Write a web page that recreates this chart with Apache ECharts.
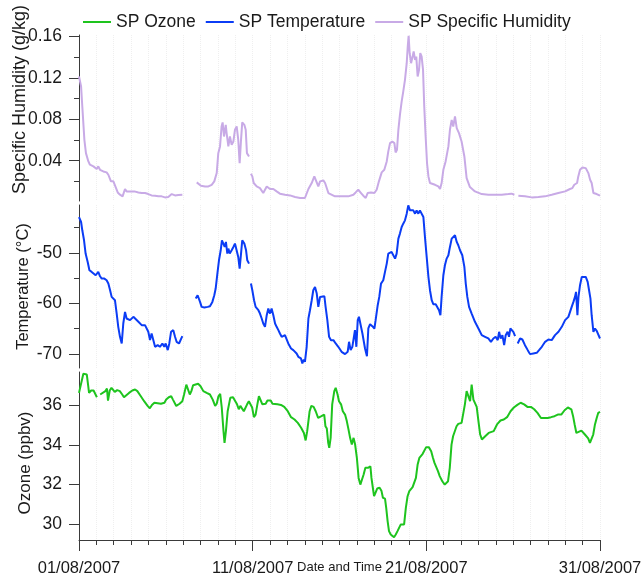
<!DOCTYPE html>
<html>
<head>
<meta charset="utf-8">
<script src="https://cdn.jsdelivr.net/npm/echarts@6/dist/echarts.min.js"></script>
<style>
  html, body { margin: 0; padding: 0; background: #ffffff; }
  #chart { width: 641px; height: 575px; }
</style>
</head>
<body>
<div id="chart"></div>
<script>
// Time axis: days since 01/08/2007 00:00
const dayTicks = [0, 10, 20, 30];
const dateLabels = ['01/08/2007', '11/08/2007', '21/08/2007', '31/08/2007'];

// Value-axis ticks
const humidityTicks = [0.04, 0.08, 0.12, 0.16];
const humidityMinorTicks = [0.02, 0.06, 0.10, 0.14];
const temperatureTicks = [-70, -60, -50];
const temperatureMinorTicks = [-65, -55, -45];
const ozoneTicks = [30, 32, 34, 36];

// SP Ozone (ppbv); null marks a gap in the record
const ozoneDays = [
  0.00, 0.06, 0.25, 0.35, 0.45, 0.58, 0.70, 0.84, 0.89, 1.03, 1.12, 1.22, 1.32, 1.52, 1.61, 1.67, 1.77, 1.87, 1.94,
  2.06, 2.20, 2.35, 2.49, 2.59, 2.68, 2.88, 3.07, 3.23, 3.36, 3.56, 3.75, 3.95, 4.08, 4.20, 4.34, 4.53, 4.72, 4.92,
  5.02, 5.17, 5.31, 5.41, 5.50, 5.60, 5.70, 5.79, 5.95, 6.05, 6.18, 6.28, 6.38, 6.47, 6.57, 6.67, 6.86, 7.00, 7.16,
  7.35, 7.54, 7.70, 7.84, 7.93, 8.03, 8.13, 8.22, 8.32, 8.38, 8.46, 8.56, 8.71, 8.87, 9.00, 9.10, 9.20, 9.29, 9.39,
  9.49, 9.59, 9.68, 9.78, 9.88, 9.97, 10.07, 10.17, 10.27, 10.36, 10.46, 10.56, 10.66, 10.75, 10.85, 10.95, 11.04,
  11.14, 11.24, 11.43, 11.63, 11.82, 12.02, 12.21, 12.41, 12.60, 12.79, 12.95, 13.05, 13.14, 13.28, 13.38, 13.51,
  13.63, 13.77, 13.96, 14.12, 14.19, 14.27, 14.35, 14.41, 14.49, 14.58, 14.70, 14.78, 14.89, 14.97, 15.09, 15.19,
  15.32, 15.42, 15.52, 15.61, 15.71, 15.81, 15.90, 16.00, 16.10, 16.20, 16.29, 16.39, 16.49, 16.64, 16.78, 16.84,
  16.92, 16.99, 17.07, 17.17, 17.31, 17.42, 17.50, 17.62, 17.69, 17.77, 17.85, 17.95, 18.04, 18.14, 18.24, 18.34,
  18.43, 18.53, 18.63, 18.72, 18.82, 18.92, 19.02, 19.11, 19.21, 19.31, 19.40, 19.50, 19.60, 19.79, 19.99, 20.14,
  20.28, 20.38, 20.47, 20.57, 20.67, 20.77, 20.92, 21.06, 21.15, 21.25, 21.35, 21.45, 21.54, 21.64, 21.74, 21.84,
  22.03, 22.13, 22.22, 22.32, 22.42, 22.52, 22.61, 22.71, 22.81, 22.90, 23.00, 23.10, 23.20, 23.29, 23.39, 23.49,
  23.59, 23.68, 23.88, 23.97, 24.07, 24.27, 24.46, 24.65, 24.85, 25.04, 25.24, 25.43, 25.63, 25.82, 26.02, 26.21,
  26.40, 26.60, 26.70, 26.79, 26.99, 27.18, 27.38, 27.57, 27.77, 27.96, 28.15, 28.35, 28.45, 28.54, 28.64, 28.74,
  28.93, 29.03, 29.13, 29.22, 29.32, 29.42, 29.52, 29.61, 29.71, 29.81, 29.90, 30.00
];
const ozone = [
  36.64, 36.64, 37.61, 37.61, 37.57, 36.64, 36.76, 36.76, 36.69, 36.42, null, 36.56, 36.59, 36.73, 36.86, 36.25, 36.76, 36.90, 36.81,
  36.69, 36.78, 36.73, 36.56, 36.42, 36.47, 36.64, 36.76, 36.81, 36.73, 36.47, 36.22, 35.98, 35.86, 36.03, 36.14, 36.12, 36.09, 36.14,
  36.30, 36.42, 36.47, 36.30, 36.22, 35.98, 36.06, 36.09, 36.22, 36.56, 37.06, 37.10, 36.56, 36.73, 37.03, 37.10, 37.10, 36.98, 36.73,
  36.64, 36.56, 36.30, 35.98, 36.09, 36.47, 36.59, 35.90, 34.70, 34.11, 34.70, 35.71, 36.39, 36.42, 36.22, 36.06, 35.81, 35.98, 36.06,
  35.71, 35.76, 36.06, 36.22, 36.30, 35.90, 35.41, 35.54, 36.06, 36.47, 36.39, 36.06, 35.98, 36.09, 36.25, 36.30, 36.25,
  36.09, 36.14, 36.06, 36.03, 35.93, 35.71, 35.41, 35.29, 35.12, 34.87, 34.61, 34.23, 34.70, 35.71, 35.98, 35.93,
  35.71, 35.37, 35.46, 35.54, 34.95, 34.83, 34.11, 33.85, 34.36, 36.06, 36.73, 36.90, 36.56, 36.22, 36.06, 35.71,
  35.54, 35.21, 34.78, 34.36, 34.02, 34.36, 34.02, 33.35, 32.33, 31.99, 31.99, 32.50, 32.84, 32.84, 32.92, 32.33,
  31.83, 31.40, 31.57, 31.79, 31.83, 31.66, 31.32, 31.28, 30.81, 30.14, 29.63, 29.46, 29.54, 29.32, 29.46, 29.63,
  29.54, 29.97, 30.00, 29.97, 30.81, 31.40, 31.66, 31.74, 31.86, 31.83, 32.33, 33.01, 33.35, 33.55, 33.89, 33.89,
  33.68, 33.35, 33.09, 33.01, 32.67, 32.42, 32.16, 31.99, 31.91, 32.16, 32.84, 34.02, 34.44, 34.53, 34.95, 35.07,
  35.12, 35.21, 36.06, 36.73, 36.64, 36.22, 37.06, 36.30, 36.22, 35.93, 35.21, 34.53, 34.28, 34.36, 34.44, 34.53,
  34.61, 34.65, 34.70, 34.78, 35.04, 35.24, 35.29, 35.41, 35.71, 35.90, 36.03, 36.14, 36.06, 35.93, 35.93, 35.81,
  35.63, 35.37, 35.29, 35.37, 35.37, 35.41, 35.46, 35.54, 35.54, 35.76, 35.90, 35.81, 35.46, 35.04, 34.61, 34.70,
  34.73, 34.66, 34.53, 34.44, 34.33, 34.11, 34.19, 34.53, 35.04, 35.37, 35.63, 35.68
];

// SP Temperature (°C)
const temperatureDays = [
  0.00, 0.12, 0.19, 0.29, 0.38, 0.50, 0.60, 0.73, 0.83, 0.96, 1.04, 1.11, 1.21, 1.31, 1.46, 1.59, 1.69, 1.79, 1.88,
  1.98, 2.07, 2.17, 2.26, 2.36, 2.46, 2.55, 2.65, 2.74, 2.84, 2.94, 3.13, 3.22, 3.42, 3.61, 3.70, 3.80, 3.90, 3.99,
  4.09, 4.18, 4.28, 4.38, 4.53, 4.66, 4.80, 4.91, 4.99, 5.11, 5.20, 5.30, 5.43, 5.53, 5.62, 5.76, 5.85, 5.95, 6.30,
  6.72, 6.83, 6.97, 7.06, 7.22, 7.41, 7.54, 7.68, 7.79, 7.87, 7.98, 8.06, 8.16, 8.23, 8.31, 8.39, 8.46, 8.54, 8.60,
  8.68, 8.79, 8.89, 8.98, 9.08, 9.17, 9.25, 9.33, 9.40, 9.52, 9.62, 9.69, 9.79, 9.85, 9.90, 9.98, 10.08, 10.17,
  10.33, 10.42, 10.52, 10.61, 10.71, 10.81, 10.90, 11.00, 11.09, 11.19, 11.29, 11.38, 11.48, 11.57, 11.67, 11.86,
  12.05, 12.21, 12.34, 12.53, 12.63, 12.78, 12.86, 12.94, 13.01, 13.11, 13.21, 13.30, 13.40, 13.49, 13.59, 13.69,
  13.78, 13.88, 13.97, 14.13, 14.20, 14.30, 14.40, 14.51, 14.65, 14.78, 14.93, 15.12, 15.32, 15.47, 15.55, 15.64,
  15.74, 15.84, 15.89, 15.97, 16.05, 16.12, 16.20, 16.32, 16.39, 16.47, 16.58, 16.66, 16.76, 16.89, 17.01, 17.08,
  17.20, 17.29, 17.39, 17.52, 17.62, 17.72, 17.81, 17.91, 18.00, 18.10, 18.20, 18.29, 18.39, 18.48, 18.58, 18.67,
  18.77, 18.87, 18.96, 19.06, 19.15, 19.25, 19.35, 19.44, 19.54, 19.63, 19.73, 19.83, 19.92, 20.02, 20.12, 20.21,
  20.31, 20.40, 20.54, 20.65, 20.73, 20.81, 20.88, 20.98, 21.07, 21.17, 21.27, 21.36, 21.46, 21.55, 21.65, 21.75,
  21.84, 21.94, 22.07, 22.19, 22.27, 22.36, 22.46, 22.61, 22.80, 23.00, 23.19, 23.38, 23.57, 23.72, 23.86, 23.99,
  24.11, 24.19, 24.28, 24.38, 24.48, 24.57, 24.68, 24.76, 24.84, 24.91, 25.01, 25.11, 25.18, 25.26, 25.40, 25.53,
  25.68, 25.84, 25.97, 26.16, 26.36, 26.49, 26.65, 26.84, 27.03, 27.22, 27.41, 27.61, 27.80, 27.99, 28.18, 28.28,
  28.37, 28.47, 28.56, 28.62, 28.70, 28.76, 28.85, 28.95, 29.04, 29.18, 29.29, 29.37, 29.45, 29.52, 29.62, 29.71,
  29.81, 29.90, 30.00
];
const temperature = [
  -42.88, -43.87, -45.51, -47.49, -50.13, -51.78, -53.43, -53.76, -53.96, -54.42, -54.75, -53.76, -54.62, -55.08, -55.08, -55.41, -56.07, -57.39, -58.71,
  -58.38, -59.37, -62.01, -64.64, -66.62, -67.94, -63.98, -61.68, -62.99, -62.66, -63.32, -62.66, -62.99, -63.65, -64.31, -64.64, -64.31, -64.31, -65.63,
  -67.28, -65.96, -66.29, -68.60, -68.27, -68.60, -67.94, -68.60, -67.94, -69.26, -67.94, -65.63, -65.30, -66.62, -67.61, -67.94, -68.14, -66.49, null,
  -59.04, -58.38, -59.70, -60.69, -60.82, -60.69, -60.55, -59.70, -58.38, -57.06, -53.76, -51.45, -49.47, -47.49, -48.15, -48.81, -47.82, -50.13, -49.14,
  -50.13, -49.47, -48.81, -48.15, -47.82, -50.79, -53.10, -50.13, -47.49, -48.15, -49.47, -51.45, -52.11, null, -56.07, -57.39, -59.37, -60.69,
  -61.35, -62.01, -62.99, -63.98, -64.64, -62.34, -61.02, -62.01, -61.02, -62.34, -63.98, -64.64, -65.30, -65.96, -66.62, -66.29,
  -67.94, -68.93, -69.26, -69.92, -70.58, -70.91, -71.90, -71.11, -71.57, -68.60, -62.99, -61.35, -59.37, -57.39, -56.73, -58.05,
  -60.69, -58.71, -58.38, -58.58, -60.69, -63.32, -66.62, -67.28, -67.28, -67.94, -68.60, -69.59, -70.05, -69.59, -67.61, -69.26,
  -68.60, -68.93, -65.30, -68.60, -63.32, -62.66, -63.98, -65.96, -65.63, -68.93, -70.45, -64.97, -64.12, -64.51, -64.97, -63.32,
  -60.36, -58.71, -56.07, -55.41, -53.76, -52.11, -50.13, -49.80, -49.80, -50.13, -51.12, -50.13, -47.16, -46.17, -44.85, -44.20,
  -43.54, -42.22, -40.57, -41.56, -41.89, -41.56, -42.22, -41.56, -42.22, -41.56, -41.89, -42.88, -46.83, -50.79, -54.75, -57.39,
  -59.37, -60.16, -60.16, -60.55, -61.35, -62.34, -58.71, -54.42, -52.44, -51.12, -50.46, -48.81, -47.16, -47.49, -46.50, -47.82,
  -48.48, -49.47, -50.46, -52.77, -56.07, -58.71, -60.69, -62.01, -63.65, -64.97, -66.29, -66.62, -66.95, -67.61, -66.95, -66.62,
  -67.28, -65.63, -66.95, -66.29, -68.27, -66.29, -65.63, -66.62, -64.97, -64.97, -65.63, -66.49, null, -67.94, -66.95, -67.15,
  -68.27, -69.26, -70.05, -69.92, -69.79, -69.26, -68.60, -67.61, -67.15, -67.28, -66.29, -65.63, -64.64, -63.32, -62.66, -62.66,
  -60.69, -59.70, -58.71, -57.72, -62.34, -58.71, -56.40, -54.75, -54.42, -54.75, -55.74, -57.39, -59.04, -62.34, -65.63, -64.97,
  -65.44, -65.63, -66.95
];

// SP Specific Humidity (g/kg)
const humidityDays = [
  0.00, 0.12, 0.19, 0.31, 0.40, 0.54, 0.63, 0.83, 1.02, 1.11, 1.21, 1.40, 1.59, 1.69, 1.84, 1.98, 2.07, 2.23, 2.36,
  2.51, 2.65, 2.74, 2.94, 3.19, 3.42, 3.61, 3.80, 3.99, 4.18, 4.38, 4.57, 4.76, 4.95, 5.14, 5.34, 5.53, 5.72, 5.95,
  6.40, 6.78, 6.87, 7.02, 7.26, 7.45, 7.64, 7.79, 7.93, 8.02, 8.12, 8.21, 8.27, 8.35, 8.45, 8.50, 8.60, 8.69, 8.79,
  8.89, 8.98, 9.08, 9.17, 9.25, 9.33, 9.40, 9.52, 9.60, 9.67, 9.79, 9.85, 9.90, 9.98, 10.06, 10.23, 10.42, 10.61,
  10.81, 11.00, 11.19, 11.38, 11.57, 11.86, 12.15, 12.44, 12.73, 13.01, 13.21, 13.40, 13.55, 13.65, 13.78, 13.88,
  14.07, 14.17, 14.36, 14.74, 15.12, 15.51, 15.80, 15.93, 16.08, 16.24, 16.37, 16.51, 16.62, 16.81, 17.01, 17.14,
  17.27, 17.43, 17.58, 17.72, 17.81, 17.91, 18.04, 18.16, 18.23, 18.31, 18.39, 18.48, 18.58, 18.67, 18.77, 18.87,
  18.93, 18.98, 19.04, 19.12, 19.21, 19.27, 19.35, 19.42, 19.50, 19.58, 19.65, 19.73, 19.81, 19.88, 19.96, 20.04,
  20.12, 20.21, 20.31, 20.50, 20.69, 20.79, 20.88, 20.98, 21.11, 21.27, 21.36, 21.46, 21.55, 21.65, 21.75, 21.88,
  22.03, 22.19, 22.32, 22.51, 22.80, 23.19, 23.57, 23.95, 24.34, 24.72, 24.91, 25.07, 25.18, 25.30, 25.68, 26.07,
  26.45, 26.83, 27.22, 27.60, 27.99, 28.27, 28.41, 28.52, 28.60, 28.68, 28.75, 28.85, 28.99, 29.18, 29.33, 29.43,
  29.52, 29.62, 29.81, 30.00
];
const humidity = [
  0.1214, 0.1118, 0.0924, 0.0602, 0.0473, 0.0393, 0.0361, 0.0345, 0.0319, 0.0345, 0.0312, 0.0296, 0.0287, 0.0264, 0.0200, 0.0200, 0.0184, 0.0093, 0.0071,
  0.0055, 0.0126, 0.0103, 0.0103, 0.0103, 0.0093, 0.0087, 0.0087, 0.0077, 0.0064, 0.0061, 0.0055, 0.0055, 0.0045, 0.0048, 0.0077, 0.0064, 0.0068, 0.0071,
  null, 0.0190, 0.0206, 0.0158, 0.0151, 0.0151, 0.0167, 0.0200, 0.0280, 0.0473, 0.0538, 0.0731, 0.0770, 0.0634, 0.0747, 0.0667, 0.0538, 0.0634, 0.0554,
  0.0586, 0.0699, 0.0731, 0.0602, 0.0377, 0.0602, 0.0770, 0.0747, 0.0699, 0.0473, 0.0441, null, 0.0274, 0.0248, 0.0184, 0.0151, 0.0135, 0.0087,
  0.0151, 0.0126, 0.0126, 0.0103, 0.0081, 0.0071, 0.0064, 0.0048, 0.0039, 0.0039, 0.0126, 0.0184, 0.0248, 0.0248, 0.0151, 0.0200,
  0.0209, 0.0184, 0.0087, 0.0055, 0.0055, 0.0055, 0.0071, 0.0093, 0.0119, 0.0087, 0.0061, 0.0039, 0.0087, 0.0093, 0.0087, 0.0119,
  0.0200, 0.0287, 0.0312, 0.0393, 0.0490, 0.0570, 0.0586, 0.0570, 0.0480, 0.0506, 0.0699, 0.0844, 0.0973, 0.1069, 0.1182, 0.1343,
  0.1504, 0.1607, 0.1440, 0.1343, 0.1407, 0.1456, 0.1375, 0.1407, 0.1214, 0.1279, 0.1440, 0.1407, 0.1279, 0.0924, 0.0634, 0.0377,
  0.0248, 0.0184, 0.0177, 0.0167, 0.0151, 0.0126, 0.0184, 0.0312, 0.0393, 0.0538, 0.0699, 0.0795, 0.0731, 0.0828, 0.0715, 0.0667,
  0.0586, 0.0441, 0.0232, 0.0145, 0.0103, 0.0077, 0.0071, 0.0071, 0.0071, 0.0077, 0.0081, 0.0071, null, 0.0061, 0.0055, 0.0045,
  0.0048, 0.0055, 0.0071, 0.0087, 0.0103, 0.0126, 0.0135, 0.0167, 0.0151, 0.0184, 0.0248, 0.0312, 0.0335, 0.0328, 0.0280, 0.0216,
  0.0184, 0.0087, 0.0077, 0.0061
];

const COLORS = { ozone: '#1ec41e', temperature: '#0b3cf5', humidity: '#c8aae6' };
const FONT = 'Arial, "Liberation Sans", sans-serif';
const AXIS_COLOR = '#3a3a3a';
const TEXT_COLOR = '#1a1a1a';
const GRID_LINE = { color: '#efefef', width: 1, type: 'dotted' };

const pair = (xs, ys) => xs.map((x, i) => [x, ys[i]]);

// One x axis per panel; only the bottom one carries ticks and labels
function makeXAxis(gridIndex, isBottom) {
  return {
    type: 'value', gridIndex, min: 0, max: 30, interval: 10,
    axisLine: { show: isBottom, onZero: false, lineStyle: { color: AXIS_COLOR, width: 1 } },
    axisTick: { show: isBottom, length: 11, lineStyle: { color: AXIS_COLOR } },
    minorTick: { show: isBottom, splitNumber: 10, length: 5, lineStyle: { color: AXIS_COLOR } },
    splitLine: { show: true, lineStyle: GRID_LINE },
    minorSplitLine: { show: true, lineStyle: GRID_LINE },
    axisLabel: {
      show: isBottom, fontSize: 16.5, color: TEXT_COLOR, fontFamily: FONT, margin: 20,
      formatter: v => { const k = dayTicks.indexOf(v); return k >= 0 ? dateLabels[k] : ''; }
    },
    name: isBottom ? 'Date and Time' : '',
    nameLocation: 'middle', nameGap: 21, nameMoveOverlap: false,
    nameTextStyle: { fontSize: 13, color: TEXT_COLOR, fontFamily: FONT }
  };
}

function makeYAxis(gridIndex, min, max, ticks, fmt, name, nameSize, nameGap, namePad) {
  return {
    type: 'value', gridIndex, min, max, position: 'left',
    axisLine: { show: true, onZero: false, lineStyle: { color: AXIS_COLOR, width: 1 } },
    axisTick: { show: true, length: 10, customValues: ticks, lineStyle: { color: AXIS_COLOR } },
    axisLabel: { show: true, customValues: ticks, formatter: fmt, fontSize: 17.5, color: TEXT_COLOR, fontFamily: FONT, margin: 17 },
    splitLine: { show: false },
    name, nameLocation: 'middle', nameGap, nameRotate: 90, nameMoveOverlap: false,
    nameTextStyle: { fontSize: nameSize, color: TEXT_COLOR, fontFamily: FONT, padding: namePad }
  };
}

function makeMinorYAxis(gridIndex, min, max, ticks) {
  return {
    type: 'value', gridIndex, min, max, position: 'left',
    axisLine: { show: false },
    axisTick: { show: true, length: 5, customValues: ticks, lineStyle: { color: AXIS_COLOR } },
    axisLabel: { show: false },
    splitLine: { show: false }
  };
}

const chart = echarts.init(document.getElementById('chart'), null, { renderer: 'canvas' });

// Panels are placed at fixed pixel positions; labels may extend past the canvas edge
const panel = (top, height) => ({ left: 79, right: 41, top, height, containLabel: false, outerBoundsMode: 'none' });

chart.setOption({
  animation: false,
  backgroundColor: '#ffffff',
  textStyle: { fontFamily: FONT },
  legend: {
    top: 8, left: 78,
    icon: 'rect', itemWidth: 28, itemHeight: 2, itemGap: 10,
    textStyle: { fontSize: 17.5, color: TEXT_COLOR, fontFamily: FONT },
    data: ['SP Ozone', 'SP Temperature', 'SP Specific Humidity']
  },
  grid: [panel(35, 166), panel(205, 163), panel(372, 168)],
  xAxis: [makeXAxis(0, false), makeXAxis(1, false), makeXAxis(2, true)],
  yAxis: [
    makeYAxis(0, 0.001, 0.1616, humidityTicks, v => v.toFixed(2), 'Specific Humidity (g/kg)', 18, 50, [0, 0, 0, 37]),
    makeMinorYAxis(0, 0.001, 0.1616, humidityMinorTicks),
    makeYAxis(1, -72.8, -40.5, temperatureTicks, v => String(v), 'Temperature (°C)', 16.5, 47, 0),
    makeMinorYAxis(1, -72.8, -40.5, temperatureMinorTicks),
    makeYAxis(2, 29.18, 37.7, ozoneTicks, v => String(v), 'Ozone (ppbv)', 17, 45, [0, 14, 0, 0])
  ],
  series: [
    {
      name: 'SP Ozone', type: 'line', xAxisIndex: 2, yAxisIndex: 4,
      data: pair(ozoneDays, ozone), symbol: 'none', connectNulls: false,
      color: COLORS.ozone, lineStyle: { width: 2, color: COLORS.ozone }
    },
    {
      name: 'SP Temperature', type: 'line', xAxisIndex: 1, yAxisIndex: 2,
      data: pair(temperatureDays, temperature), symbol: 'none', connectNulls: false,
      color: COLORS.temperature, lineStyle: { width: 2, color: COLORS.temperature }
    },
    {
      name: 'SP Specific Humidity', type: 'line', xAxisIndex: 0, yAxisIndex: 0,
      data: pair(humidityDays, humidity), symbol: 'none', connectNulls: false,
      color: COLORS.humidity, lineStyle: { width: 2, color: COLORS.humidity }
    }
  ]
});
</script>
</body>
</html>
